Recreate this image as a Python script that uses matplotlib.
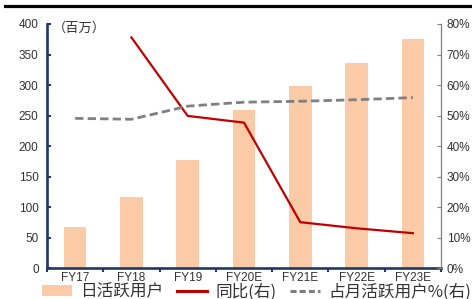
import matplotlib
matplotlib.use("Agg")
import matplotlib.pyplot as plt
from matplotlib.lines import Line2D
from matplotlib.patches import Patch
import numpy as np

categories = ["FY17", "FY18", "FY19", "FY20E", "FY21E", "FY22E", "FY23E"]
dau = [67, 116, 177, 259, 299, 336, 375]              # 百万
yoy = [None, 75.6, 49.9, 47.7, 15.1, 13.1, 11.5]      # %
dau_mau = [49.1, 48.8, 53.1, 54.4, 54.7, 55.2, 55.9]  # %
left_ticks = [0, 50, 100, 150, 200, 250, 300, 350, 400]
right_ticks = [0, 10, 20, 30, 40, 50, 60, 70, 80]

num_font = "Liberation Sans"
cjk_font = ["Noto Sans CJK SC", "DejaVu Sans"]
navy = "#1F3864"
grey = "#808080"

fig = plt.figure(figsize=(4.72, 2.99), dpi=100)
ax = fig.add_axes([47/472, 1-268.3/299, (441-47)/472, (268.3-24)/299])
ax2 = ax.twinx()
ax.set_zorder(ax2.get_zorder() - 1)
ax.patch.set_visible(True)
ax2.patch.set_visible(False)

x = np.arange(len(categories))
ax.bar(x, dau, width=0.4, color="#FACBA6", zorder=2)

xs_yoy = [xi for xi, v in zip(x, yoy) if v is not None]
vs_yoy = [v for v in yoy if v is not None]
ax2.plot(xs_yoy, vs_yoy, color="#C00000", lw=1.6, solid_joinstyle="miter")
ax2.plot(x, dau_mau, color=grey, lw=2.0, dashes=(3, 1.5))

ax.set_xlim(-0.5, len(categories) - 0.5)
ax.set_ylim(0, 400)
ax2.set_ylim(0, 80)

ax.set_yticks(left_ticks)
ax.set_yticklabels([str(t) for t in left_ticks], fontfamily=num_font, fontsize=8.5, color="#333333")
ax2.set_yticks(right_ticks)
ax2.set_yticklabels([f"{t}%" for t in right_ticks], fontfamily=num_font, fontsize=8.5, color="#333333")

ax.set_xticks(x)
ax.set_xticklabels(categories, fontfamily=num_font, fontsize=8.5, color="#333333")
ax.set_xticks(np.arange(-0.5, len(categories)), minor=True)
ax.tick_params(axis="x", which="major", length=0, pad=3)
ax.tick_params(axis="x", which="minor", length=3, width=1.5, color=navy, direction="out")
ax.tick_params(axis="y", length=3, width=1.5, color=navy, direction="in", pad=6)
ax2.tick_params(axis="y", length=3, width=0.8, color=grey, direction="in", pad=4)

for s in ["top", "right"]:
    ax.spines[s].set_visible(False)
ax.spines["left"].set_color(navy)
ax.spines["left"].set_linewidth(1.9)
ax.spines["bottom"].set_color(navy)
ax.spines["bottom"].set_linewidth(1.9)
for s in ["top", "left", "bottom"]:
    ax2.spines[s].set_visible(False)
ax2.spines["right"].set_color(grey)
ax2.spines["right"].set_linewidth(0.9)

ax.text(0.015, 0.984, "（百万）", transform=ax.transAxes, fontfamily=cjk_font,
        fontsize=9.5, color="#333333", va="center", ha="left")

# top rule
fig.add_artist(Line2D([5/472, 1.0], [1-5.5/299, 1-5.5/299], transform=fig.transFigure,
                      color="black", lw=2.3))

handles = [Patch(facecolor="#FACBA6", edgecolor="none"),
           Line2D([], [], color="#C00000", lw=2.2),
           Line2D([], [], color=grey, lw=2.2, dashes=(2, 1))]
labels = ["日活跃用户", "同比(右)", "占月活跃用户%(右)"]
fig.legend(handles, labels, loc="center left", bbox_to_anchor=(42/472, 1-292/299),
           ncol=3, frameon=False, prop={"family": cjk_font, "size": 12},
           handlelength=1.8, handleheight=0.6, handletextpad=0.5, columnspacing=0.8,
           borderpad=0, borderaxespad=0, labelcolor="#333333")

fig.savefig("out.png", dpi=100)
